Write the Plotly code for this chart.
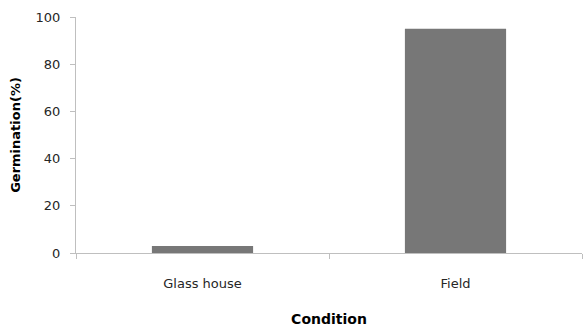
import plotly.graph_objects as go

categories = ["Glass house", "Field"]
germination = [3, 95]
y_ticks = [0, 20, 40, 60, 80, 100]

fig = go.Figure()
fig.add_trace(go.Bar(x=categories, y=germination, marker=dict(color="#777777", line=dict(width=0)), width=0.4))

axis_color = "#BFBFBF"
fnt = dict(family="DejaVu Sans, sans-serif", size=13, color="#262626")

fig.update_layout(
    width=583, height=327,
    margin=dict(l=76, r=1, t=17, b=74),
    plot_bgcolor="white", paper_bgcolor="white",
    showlegend=False,
    font=fnt,
    xaxis=dict(
        showline=True, linecolor=axis_color, linewidth=1,
        ticks="outside", tickson="boundaries", ticklen=5, tickcolor=axis_color,
        showgrid=False, zeroline=False,
        ticklabelstandoff=18,
        title=dict(text="<b>Condition</b>", font=dict(size=14, color="#000000"), standoff=24),
    ),
    yaxis=dict(
        range=[0, 100], tickvals=y_ticks,
        showline=True, linecolor=axis_color, linewidth=1,
        ticks="outside", ticklen=5, tickcolor=axis_color,
        showgrid=False, zeroline=False,
        ticklabelstandoff=7,
        title=dict(text="<b>Germination(%)</b>", font=dict(size=13, color="#000000"), standoff=12),
    ),
)

fig.write_html("out.html", config={"displayModeBar": False},
               post_script="document.body.style.margin='0';")
